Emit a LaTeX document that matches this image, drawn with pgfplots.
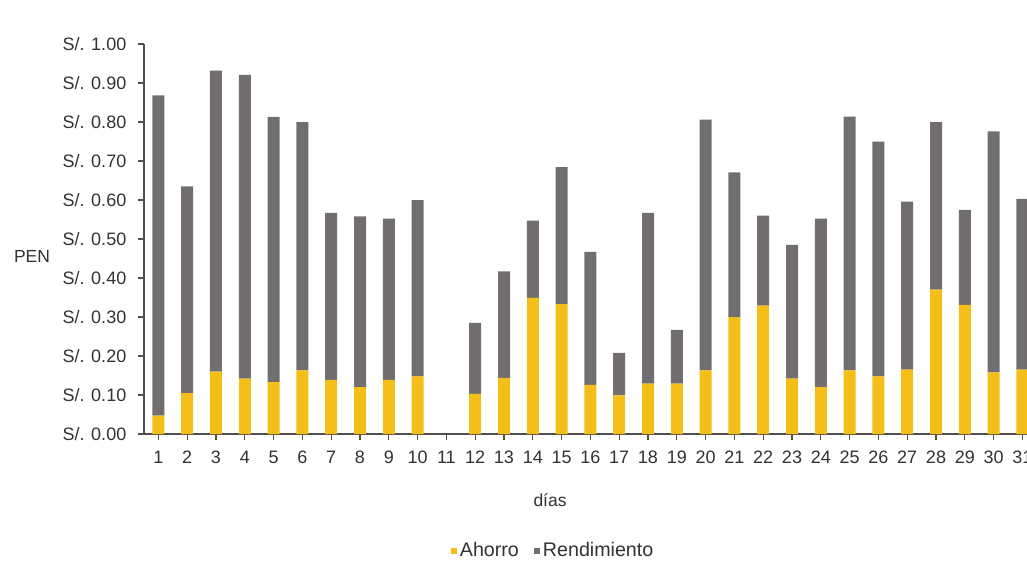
\documentclass[border=0pt]{standalone}
\usepackage{fontspec}
\setmainfont{Liberation Sans}
\usepackage{pgfplots}
\pgfplotsset{compat=1.18}
\definecolor{ahorro}{RGB}{245,190,24}
\definecolor{rend}{RGB}{114,110,112}
\definecolor{txt}{RGB}{50,50,50}
\definecolor{axl}{RGB}{80,80,80}
\begin{document}
\begin{tikzpicture}
\path[use as bounding box] (-86.4pt,-82.8pt) rectangle (529.8pt,260.4pt);
\begin{axis}[
  at={(0,0)}, anchor=south west,
  scale only axis,
  width=535.68pt, height=234pt,
  xmin=0.5, xmax=31.5, ymin=0, ymax=1,
  ybar stacked, bar width=7.2pt,
  axis x line*=bottom, axis y line*=left,
  axis line style={axl, line width=0.8pt},
  tick style={axl, line width=0.8pt},
  tick align=outside,
  major tick length=3.6pt,
  xtick={1,...,31},
  ytick={0,0.1,...,1.0},
  yticklabels={S/. 0.00,S/. 0.10,S/. 0.20,S/. 0.30,S/. 0.40,S/. 0.50,S/. 0.60,S/. 0.70,S/. 0.80,S/. 0.90,S/. 1.00},
  /pgf/number format/assume math mode=true,
  ticklabel style={font=\fontsize{10.8}{12}\selectfont, text=txt},
  yticklabel style={xshift=-3.5pt},
  xticklabel style={yshift=-3pt},
  xlabel={días},
  xlabel style={font=\fontsize{10.5}{12}\selectfont, text=txt, at={(axis description cs:0.4548,-0.169)}, anchor=center},
  ylabel={PEN},
  ylabel style={font=\fontsize{10.5}{12}\selectfont, text=txt, rotate=-90, at={(axis description cs:-0.1254,0.454)}, anchor=center},
  legend style={at={(axis description cs:0.459,-0.30)}, anchor=center, draw=none, fill=none,
    font=\fontsize{11.8}{13}\selectfont, text=txt, legend columns=2,
    /tikz/every even column/.append style={column sep=7pt}},
  legend image code/.code={\fill[#1] (0pt,-1.7pt) rectangle (3.4pt,1.7pt);},
]
\addplot[fill=ahorro, draw=none] coordinates {
(1,0.047) (2,0.105) (3,0.160) (4,0.142) (5,0.133) (6,0.163) (7,0.139) (8,0.120) (9,0.139) (10,0.148)
(12,0.103) (13,0.144) (14,0.349) (15,0.333) (16,0.126) (17,0.099) (18,0.129) (19,0.129) (20,0.163)
(21,0.300) (22,0.329) (23,0.142) (24,0.120) (25,0.163) (26,0.148) (27,0.165) (28,0.370) (29,0.331) (30,0.158) (31,0.165)
};
\addlegendentry{Ahorro}
\addplot[fill=rend, draw=none] coordinates {
(1,0.821) (2,0.530) (3,0.772) (4,0.779) (5,0.680) (6,0.637) (7,0.428) (8,0.438) (9,0.413) (10,0.452)
(12,0.182) (13,0.273) (14,0.198) (15,0.351) (16,0.341) (17,0.109) (18,0.438) (19,0.138) (20,0.643)
(21,0.371) (22,0.231) (23,0.343) (24,0.432) (25,0.651) (26,0.602) (27,0.431) (28,0.430) (29,0.244) (30,0.618) (31,0.438)
};
\addlegendentry{Rendimiento}
\end{axis}
\end{tikzpicture}
\end{document}
